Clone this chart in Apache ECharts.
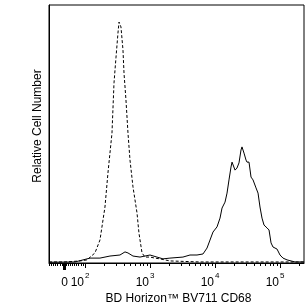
<!DOCTYPE html>
<html><head><meta charset="utf-8">
<script src="https://cdn.jsdelivr.net/npm/echarts@6/dist/echarts.min.js"></script>
<style>html,body{margin:0;padding:0;background:#fff}#c{width:308px;height:306px}</style>
</head><body><div id="c"></div>
<script>
// x values are in display (logicle, decade) units; y in relative % of max scale
const isotypeX = [1.446,1.692,1.923,2.03,2.153,2.23,2.307,2.353,2.415,2.446,2.477,2.507,2.523,2.553,2.584,2.6,2.63,2.661,2.692,2.738,2.8,2.83,2.877,2.923,3.0,3.077,3.153,3.307,3.769,5.369];
const isotypeY = [0.4,0.4,0.8,1.2,3.9,8.9,21.7,34.9,50.4,69.8,79.8,89.1,93.4,91.5,82.6,73.6,63.2,50.4,39.9,29.5,19.4,11.6,3.9,2.3,2.3,1.9,1.6,0.8,0.4,0.4];
const cd68X = [1.446,1.846,2.077,2.23,2.384,2.538,2.615,2.661,2.738,2.846,3.0,3.107,3.2,3.307,3.507,3.615,3.723,3.815,3.877,3.923,3.969,4.031,4.077,4.108,4.154,4.185,4.215,4.246,4.262,4.308,4.338,4.369,4.4,4.415,4.446,4.477,4.492,4.523,4.554,4.585,4.631,4.662,4.692,4.723,4.754,4.8,4.831,4.862,4.892,4.954,5.0,5.046,5.108,5.231,5.369];
const cd68Y = [0.3,0.4,1.9,1.9,2.7,3.1,4.3,3.9,2.7,2.3,3.1,2.3,1.6,1.9,2.3,3.1,3.1,3.5,5.8,8.9,12.0,14.0,17.4,21.3,23.6,27.1,32.2,37.2,39.1,36.0,36.8,38.8,43.8,45.0,42.6,39.9,39.1,39.1,33.3,32.2,29.1,27.1,21.7,17.4,14.7,13.6,12.8,7.8,6.2,5.4,3.1,1.9,1.2,0.4,0.4];

const majorTickValues = [0, 100, 1000, 10000, 100000];
const tickBase = ['0', '10', '10', '10', '10'];
const tickExp  = ['', '2', '3', '4', '5'];
const minorTickValues = [-70,-60,-50,-40,-30,-20,-10,10,20,30,40,50,60,70,80,90,
  200,300,400,500,600,700,800,900,2000,3000,4000,5000,6000,7000,8000,9000,
  20000,30000,40000,50000,60000,70000,80000,90000,200000];

const X_MIN = 1.446, X_MAX = 5.369, ZERO_POS = 1.677;
function toAxis(v){ return v >= 100 ? Math.log10(v) : ZERO_POS + v/100*(2-ZERO_POS); }

const majorPos = majorTickValues.map(toAxis);
const minorPos = minorTickValues.map(toAxis);
function labelAt(arr){
  return function(value){
    let best = 0, d = 1e9;
    majorPos.forEach((p,i)=>{ const dd = Math.abs(p-value); if(dd<d){d=dd;best=i;} });
    return arr[best];
  };
}

const font = 'Liberation Sans, Arial, sans-serif';
const chart = echarts.init(document.getElementById('c'), null, {renderer:'canvas'});
const hidden = {axisLine:{show:false}, axisTick:{show:false}, splitLine:{show:false}};
function ax(extra){ return Object.assign({type:'value', min:X_MIN, max:X_MAX, position:'bottom', splitLine:{show:false}}, extra); }
chart.setOption({
  animation:false,
  grid:{left:49, right:4, top:5, bottom:43, outerBoundsMode:'none', containLabel:false,
    show:true, borderColor:'#000', borderWidth:1, backgroundColor:'transparent'},
  xAxis:[
    ax({
      name:'BD Horizon™ BV711 CD68', nameLocation:'middle', nameGap:30, nameMoveOverlap:false,
      nameTextStyle:{fontFamily:font, fontSize:12, color:'#000', padding:[0,0,0,4]},
      axisLine:{show:true, lineStyle:{color:'#000', width:1}},
      axisTick:{show:true, length:5, lineStyle:{color:'#000', width:1}, customValues: majorPos.slice(1)},
      axisLabel:{show:true, customValues: majorPos.slice(1), formatter: labelAt(tickBase), margin:14,
        align:'right', padding:[0,1,0,0], fontFamily:font, fontSize:12, color:'#000'}
    }),
    ax(Object.assign({}, hidden, {
      axisLabel:{show:true, customValues: majorPos.slice(1), formatter: labelAt(tickExp), margin:9,
        align:'left', fontFamily:font, fontSize:8, color:'#000'}
    })),
    ax(Object.assign({}, hidden, {
      axisLabel:{show:true, customValues: [majorPos[0]], formatter: labelAt(tickBase), margin:14,
        align:'center', padding:[0,0,0,1], fontFamily:font, fontSize:12, color:'#000'}
    })),
    ax({
      axisLine:{show:false}, axisLabel:{show:false},
      axisTick:{show:true, length:3, lineStyle:{color:'#000', width:1}, customValues: minorPos}
    }),
    ax({
      axisLine:{show:false}, axisLabel:{show:false},
      axisTick:{show:true, length:7, lineStyle:{color:'#000', width:3}, customValues: [majorPos[0]]}
    })
  ],
  yAxis:{type:'value', min:0, max:100, splitLine:{show:false},
    axisLine:{show:true, lineStyle:{color:'#000'}}, axisTick:{show:false}, axisLabel:{show:false},
    name:'Relative Cell Number', nameLocation:'middle', nameGap:5, nameMoveOverlap:false,
    nameTextStyle:{fontFamily:font, fontSize:12, color:'#000', padding:[0,0,0,16]}},
  series:[
    {type:'line', data: isotypeX.map((x,i)=>[x, isotypeY[i]]), showSymbol:false, symbol:'none',
      lineStyle:{color:'#000', width:1, type:[3,2]}},
    {type:'line', data: cd68X.map((x,i)=>[x, cd68Y[i]]), showSymbol:false, symbol:'none',
      lineStyle:{color:'#000', width:1}}
  ]
});
</script></body></html>
